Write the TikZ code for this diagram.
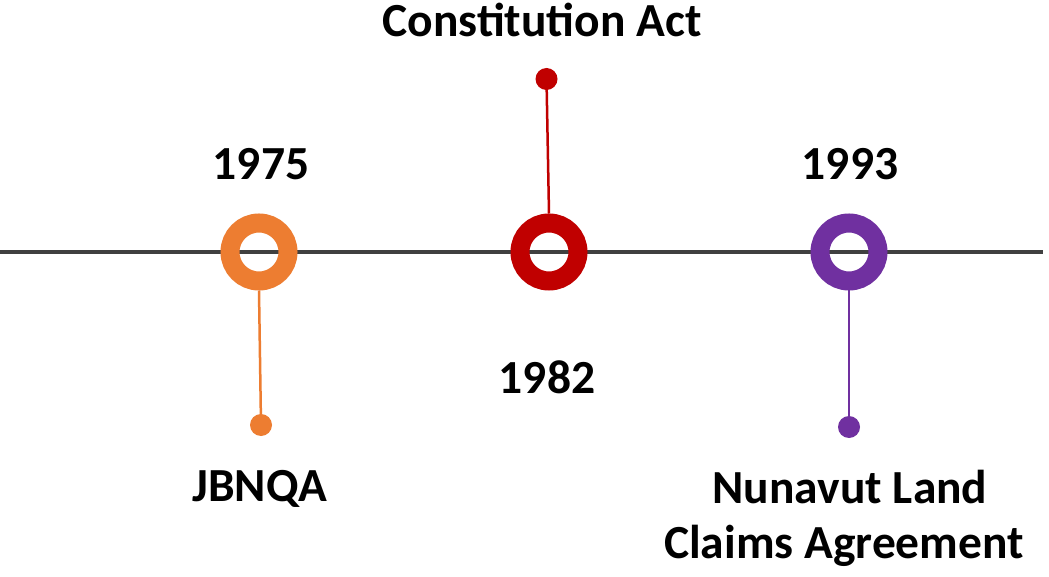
\documentclass[tikz,border=0pt]{standalone}
\usepackage{fontspec}
\setmainfont{Carlito}
\definecolor{cOrange}{HTML}{ED7D31}
\definecolor{cRed}{HTML}{C00000}
\definecolor{cPurple}{HTML}{7030A0}
\definecolor{cAxis}{HTML}{404040}
\begin{document}
\begin{tikzpicture}[x=1pt,y=-1pt,
  ring/.style={circle, draw=#1, line width=19pt, minimum size=58pt, inner sep=0pt},
  dot/.style={circle, fill=#1, inner sep=0pt, minimum size=22pt},
  stem/.style={draw=#1, line width=2.5pt},
  lbl/.style={font=\bfseries\fontsize{47.5}{53}\selectfont, anchor=base, inner sep=0pt}]
\useasboundingbox[fill=white] (0,0) rectangle (1049,577);
\coordinate (L) at (0,252);
\coordinate (R) at (1043,252);
\draw[cAxis, line width=4.5pt] (L) -- (R);
\node[ring=cOrange] (r1) at (259,252) {};
\node[ring=cRed] (r2) at (549,252) {};
\node[ring=cPurple] (r3) at (849,252) {};
\node[dot=cOrange] (d1) at (261,425) {};
\node[dot=cRed] (d2) at (546.5,79) {};
\node[dot=cPurple] (d3) at (849,427) {};
\draw[stem=cOrange] (r1.south) -- (d1.center);
\draw[stem=cRed] (d2.center) -- (r2.north);
\draw[stem=cPurple] (r3.south) -- (d3.center);
\node[lbl] (t1) at (261,180) {1975};
\node[lbl] (t2) at (542,37) {Constitution Act};
\node[lbl] (t3) at (547,393) {1982};
\node[lbl] (t4) at (850,180) {1993};
\node[lbl] (t5) at (260,501) {JBNQA};
\node[lbl] (t6) at (850,503) {Nunavut Land};
\node[lbl] (t7) at (844,558) {Claims Agreement};
\end{tikzpicture}
\end{document}
